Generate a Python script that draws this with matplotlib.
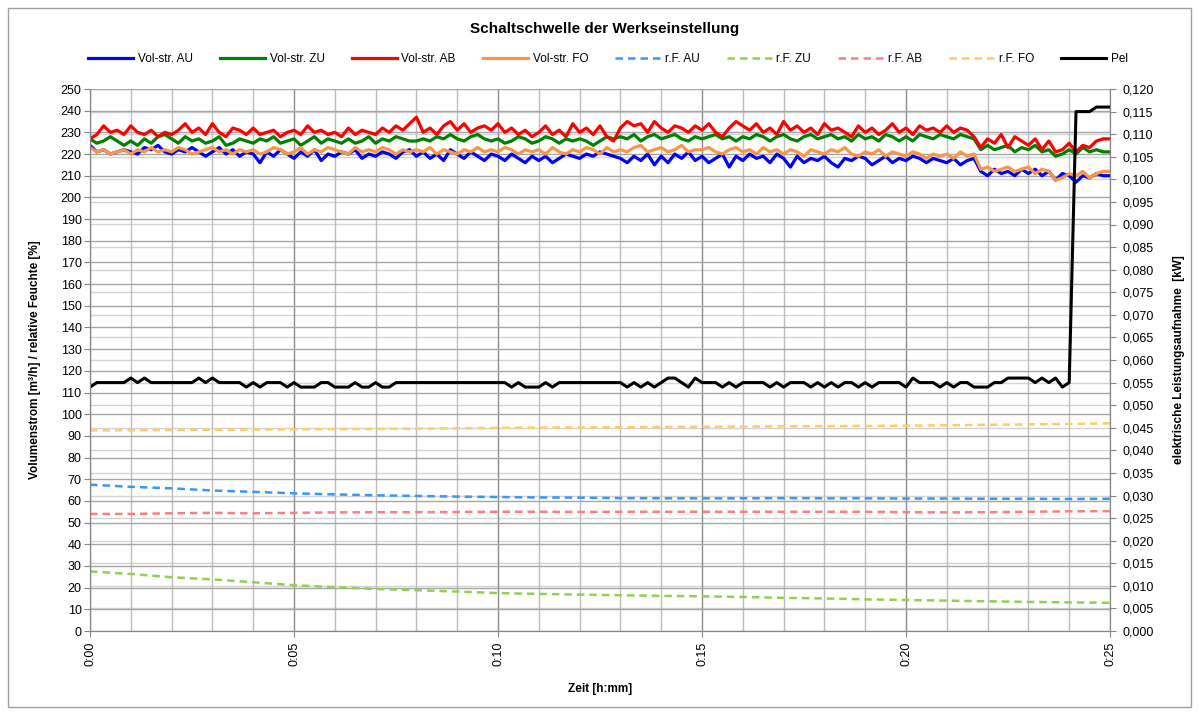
import numpy as np
import matplotlib
matplotlib.use('Agg')
import matplotlib.pyplot as plt
from matplotlib.ticker import MultipleLocator, FuncFormatter
from matplotlib.patches import Rectangle

plt.rcParams['font.family'] = ['Liberation Sans', 'DejaVu Sans']

# time axis: samples every 10 s, in minutes
t = np.arange(151) / 6.0
t_rf = np.arange(26)

# Volumenstrom [m3/h], one row per minute
vol_au = [224, 221, 222, 220, 221, 222,
          221, 220, 223, 222, 224, 221,
          220, 222, 221, 223, 221, 219,
          221, 223, 220, 222, 219, 221,
          220, 216, 221, 219, 222, 220,
          218, 221, 219, 222, 217, 220,
          219, 221, 220, 222, 218, 220,
          219, 221, 220, 218, 221, 222,
          219, 221, 218, 220, 217, 222,
          220, 218, 221, 219, 217, 220,
          219, 217, 220, 218, 216, 219,
          217, 219, 216, 218, 220, 219,
          218, 220, 219, 221, 220, 219,
          218, 216, 219, 217, 220, 215,
          219, 216, 220, 218, 221, 217,
          219, 216, 218, 220, 214, 219,
          217, 220, 218, 219, 216, 220,
          218, 214, 219, 216, 218, 217,
          219, 216, 214, 218, 217, 219,
          218, 215, 217, 219, 216, 218,
          217, 219, 218, 216, 218, 217,
          216, 218, 215, 217, 218, 212,
          210, 213, 211, 212, 210, 213,
          211, 213, 210, 212, 208, 211,
          210, 207, 210, 209, 211, 210,
          210]
vol_zu = [227, 225, 226, 228, 226, 224,
          226, 224, 227, 225, 228, 229,
          227, 225, 228, 226, 227, 225,
          226, 228, 224, 225, 227, 226,
          225, 227, 226, 228, 225, 226,
          227, 224, 226, 228, 225, 227,
          226, 225, 227, 225, 226, 228,
          225, 227, 226, 228, 227, 226,
          226, 227, 226, 228, 227, 229,
          227, 226, 228, 229, 227, 226,
          227, 225, 226, 228, 227, 225,
          226, 228, 227, 225, 227, 226,
          227, 226, 224, 226, 228, 227,
          228, 227, 229, 226, 228, 229,
          227, 228, 229, 227, 226, 228,
          227, 228, 229, 227, 228, 226,
          228, 227, 229, 228, 226, 228,
          229, 227, 226, 228, 229, 227,
          228, 229, 227, 228, 226, 229,
          227, 228, 226, 229, 228, 226,
          228, 226, 229, 228, 227, 229,
          228, 227, 229, 228, 227, 222,
          224, 222, 223, 224, 221, 223,
          222, 224, 221, 222, 219, 220,
          222, 220, 223, 221, 222, 221,
          221]
vol_ab = [227, 229, 233, 230, 231, 229,
          233, 230, 229, 231, 228, 230,
          229, 231, 234, 230, 232, 229,
          234, 230, 228, 232, 231, 229,
          232, 229, 230, 231, 228, 230,
          231, 229, 233, 230, 231, 229,
          230, 228, 232, 229, 231, 230,
          229, 232, 230, 233, 231, 234,
          237, 230, 232, 229, 233, 235,
          231, 234, 230, 232, 233, 231,
          234, 230, 232, 229, 231, 228,
          230, 233, 229, 231, 228, 234,
          230, 232, 229, 233, 228, 226,
          232, 235, 233, 234, 230, 235,
          232, 230, 233, 232, 230, 233,
          231, 234, 230, 228, 232, 235,
          233, 231, 234, 230, 232, 229,
          235, 231, 233, 230, 232, 229,
          234, 231, 232, 230, 228, 233,
          230, 232, 229, 231, 234, 230,
          232, 229, 233, 231, 232, 230,
          233, 230, 232, 231, 228, 223,
          227, 225, 229, 223, 228, 226,
          224, 227, 222, 226, 221, 222,
          225, 221, 224, 223, 226, 227,
          227]
vol_fo = [223, 221, 222, 220, 221, 222,
          220, 222, 221, 223, 221, 222,
          221, 223, 222, 220, 221, 222,
          223, 221, 222, 220, 222, 221,
          222, 220, 221, 223, 222, 220,
          221, 223, 220, 222, 221, 223,
          222, 221, 220, 223, 221, 222,
          221, 223, 222, 220, 222, 221,
          222, 221, 223, 220, 222, 221,
          220, 222, 221, 223, 221, 222,
          221, 223, 222, 220, 222, 221,
          222, 220, 223, 221, 220, 222,
          221, 223, 222, 220, 223, 221,
          222, 221, 223, 224, 221, 222,
          223, 221, 222, 224, 221, 222,
          222, 223, 221, 220, 222, 223,
          221, 222, 220, 223, 221, 222,
          220, 222, 221, 219, 222, 221,
          220, 222, 221, 223, 220, 219,
          221, 220, 222, 219, 221, 220,
          219, 221, 220, 218, 220, 219,
          220, 218, 221, 219, 220, 213,
          214, 212, 213, 214, 212, 213,
          214, 211, 213, 212, 208, 209,
          211, 210, 212, 209, 211, 212,
          212]

# relative Feuchte [%], one value per minute
rf_au = [67.5, 66.5, 65.8, 64.8, 64.2, 63.5, 63.0, 62.6, 62.3, 62.0, 61.8, 61.6, 61.5,
         61.3, 61.2, 61.2, 61.2, 61.3, 61.2, 61.2, 61.1, 61.1, 61.0, 61.0, 60.9, 61.0]
rf_zu = [27.5, 26.3, 24.8, 23.8, 22.5, 21.1, 20.2, 19.4, 18.8, 18.2, 17.5, 17.1, 16.8,
         16.5, 16.2, 16.0, 15.7, 15.3, 15.0, 14.6, 14.3, 14.0, 13.7, 13.4, 13.2, 13.0]
rf_ab = [54.0, 54.0, 54.3, 54.5, 54.3, 54.5, 54.7, 54.8, 54.8, 54.9, 55.0, 55.0, 54.9,
         55.0, 55.0, 55.0, 55.0, 55.0, 55.0, 55.0, 54.8, 54.7, 54.8, 55.0, 55.2, 55.3]
rf_fo = [92.5, 92.6, 92.7, 92.8, 92.9, 93.0, 93.1, 93.2, 93.3, 93.5, 93.7, 93.8, 93.9,
         94.0, 94.1, 94.2, 94.3, 94.4, 94.5, 94.6, 94.7, 94.9, 95.1, 95.3, 95.5, 95.8]

# Pel [W]
pel_w = [54, 55, 55, 55, 55, 55,
         56, 55, 56, 55, 55, 55,
         55, 55, 55, 55, 56, 55,
         56, 55, 55, 55, 55, 54,
         55, 54, 55, 55, 55, 54,
         55, 54, 54, 54, 55, 55,
         54, 54, 54, 55, 54, 54,
         55, 54, 54, 55, 55, 55,
         55, 55, 55, 55, 55, 55,
         55, 55, 55, 55, 55, 55,
         55, 55, 54, 55, 54, 54,
         54, 55, 54, 55, 55, 55,
         55, 55, 55, 55, 55, 55,
         55, 54, 55, 54, 55, 54,
         55, 56, 56, 55, 54, 56,
         55, 55, 55, 54, 55, 54,
         55, 55, 55, 55, 54, 55,
         54, 55, 55, 55, 54, 55,
         54, 55, 54, 55, 55, 54,
         55, 54, 55, 55, 55, 55,
         54, 56, 55, 55, 55, 54,
         55, 54, 55, 55, 54, 54,
         54, 55, 55, 56, 56, 56,
         56, 55, 56, 55, 56, 54,
         55, 115, 115, 115, 116, 116,
         116]

fig = plt.figure(figsize=(11.99, 7.15), dpi=100)
ax = fig.add_axes([90/1199, 1-631/715, 1020/1199, 542/715])
ax2 = ax.twinx()

fig.patches.append(Rectangle((8/1199, 8/715), 1183/1199, 699/715, transform=fig.transFigure,
                             fill=False, edgecolor='#a0a0a0', lw=1.0))

# grid
ax.set_axisbelow(True)
ax.xaxis.set_major_locator(MultipleLocator(5))
ax.xaxis.set_minor_locator(MultipleLocator(1))
ax.yaxis.set_major_locator(MultipleLocator(10))
ax.grid(which='major', axis='x', color='#8c8c8c', lw=1.0)
ax.grid(which='minor', axis='x', color='#bdbdbd', lw=1.0)
ax.grid(which='major', axis='y', color='#a6a6a6', lw=1.0)
for v in np.arange(0.005, 0.120, 0.005):
    ax.axhline(v / 0.120 * 250, color='#d4d4d4', lw=1.0, zorder=0.5)

lw = 2.3
l1, = ax.plot(t, vol_au, color='#0000ff', lw=lw, label='Vol-str. AU')
l2, = ax.plot(t, vol_zu, color='#008000', lw=lw, label='Vol-str. ZU')
l3, = ax.plot(t, vol_ab, color='#ff0000', lw=lw, label='Vol-str. AB')
l4, = ax.plot(t, vol_fo, color='#f79646', lw=lw, label='Vol-str. FO')
d = (3, 2)
l5, = ax.plot(t_rf, rf_au, color='#3399ff', lw=1.8, dashes=d, label='r.F. AU')
l6, = ax.plot(t_rf, rf_zu, color='#92d050', lw=1.8, dashes=d, label='r.F. ZU')
l7, = ax.plot(t_rf, rf_ab, color='#ff7c80', lw=1.8, dashes=d, label='r.F. AB')
l8, = ax.plot(t_rf, rf_fo, color='#ffcc66', lw=1.8, dashes=d, label='r.F. FO')
l9, = ax2.plot(t, np.array(pel_w) / 1000.0, color='black', lw=2.2, label='Pel')

ax.set_xlim(0, 25)
ax.set_ylim(0, 250)
ax2.set_ylim(0, 0.120)
ax2.yaxis.set_major_locator(MultipleLocator(0.005))
ax2.yaxis.set_major_formatter(FuncFormatter(lambda v, p: ('%.3f' % v).replace('.', ',')))
ax.xaxis.set_major_formatter(FuncFormatter(lambda v, p: '0:%02d' % int(round(v))))

for a in (ax, ax2):
    for s in a.spines.values():
        s.set_color('#868686')
    a.tick_params(which='both', color='#868686', labelsize=9, length=4, direction='out', pad=2)
ax.spines['top'].set_visible(False)
ax2.spines['top'].set_visible(False)
ax.tick_params(axis='x', which='major', rotation=90, pad=4)
ax.tick_params(axis='x', which='minor', length=0)
ax2.tick_params(axis='y', pad=5)

ax.set_xlabel('Zeit [h:mm]', fontsize=8.5, fontweight='bold', labelpad=12)
ax.set_ylabel('Volumenstrom [m³/h] / relative Feuchte [%]', fontsize=8.5, fontweight='bold', labelpad=14)
ax2.set_ylabel('elektrische Leistungsaufnahme  [kW]', fontsize=8.5, fontweight='bold', labelpad=14)

fig.text(605/1199, 1-29/715, 'Schaltschwelle der Werkseinstellung', ha='center', va='center',
         fontsize=11, fontweight='bold')
fig.legend(handles=[l1, l2, l3, l4, l5, l6, l7, l8, l9], loc='center',
           bbox_to_anchor=(608/1199, 1-59/715), ncol=9, frameon=False, fontsize=8.5,
           handlelength=3.8, handletextpad=0.4, columnspacing=2.3)

fig.savefig('out.png', dpi=100)
